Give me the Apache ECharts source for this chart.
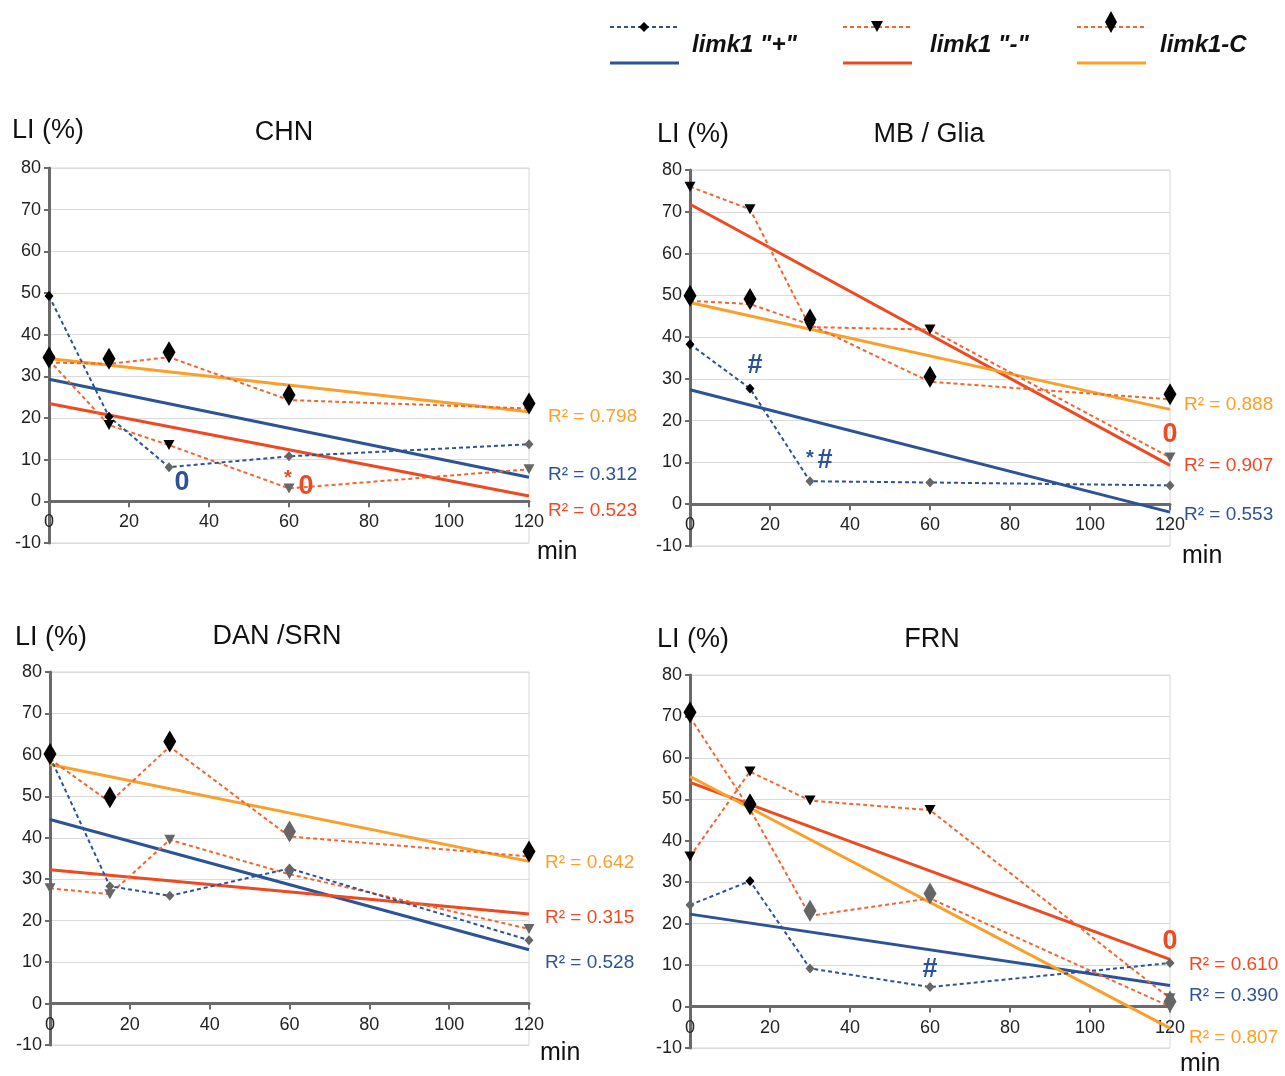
<!DOCTYPE html>
<html>
<head>
<meta charset="utf-8">
<style>
  html, body { margin: 0; padding: 0; background: #fff; }
  #chart { width: 1285px; height: 1076px; }
</style>
<script src="https://cdn.jsdelivr.net/npm/echarts@6/dist/echarts.min.js"></script>
</head>
<body>
<div id="chart"></div>
<script>
// time points (min)
var timePoints = [0, 15, 30, 60, 120];
var trendX = [0, 120];

// CHN
var chnPlus = [49.3, 20.3, 8.2, 10.8, 13.7];
var chnPlusSig = [1, 1, 0, 0, 0];
var chnMinus = [33.9, 18.3, 13.5, 3.1, 7.7];
var chnMinusSig = [1, 1, 1, 0, 0];
var chnC = [33.3, 33.0, 34.6, 24.3, 22.3];
var chnCSig = [1, 1, 1, 1, 1];
var chnTrendPlus = [29.3, 5.8];
var chnTrendMinus = [23.5, 1.3];
var chnTrendC = [34.3, 21.5];
var chnR2 = ['0.312', '0.523', '0.798'];

// MB / Glia
var mbPlus = [38.3, 27.7, 5.5, 5.2, 4.5];
var mbPlusSig = [1, 1, 0, 0, 0];
var mbMinus = [76.0, 70.6, 42.4, 41.8, 11.2];
var mbMinusSig = [1, 1, 1, 1, 0];
var mbC = [48.7, 47.9, 43.0, 29.3, 25.1];
var mbCSig = [1, 1, 1, 1, 1];
var mbTrendPlus = [27.4, -1.9];
var mbTrendMinus = [71.8, 9.3];
var mbTrendC = [48.3, 22.7];
var mbR2 = ['0.553', '0.907', '0.888'];

// DAN / SRN
var danPlus = [59.5, 28.3, 26.0, 32.6, 15.3];
var danPlusSig = [1, 0, 0, 0, 0];
var danMinus = [27.8, 26.4, 39.5, 31.2, 18.0];
var danMinusSig = [0, 0, 0, 0, 0];
var danC = [59.0, 48.6, 62.0, 40.3, 35.5];
var danCSig = [1, 1, 1, 0, 1];
var danTrendPlus = [44.4, 13.0];
var danTrendMinus = [32.3, 21.6];
var danTrendC = [57.7, 34.3];
var danR2 = ['0.528', '0.315', '0.642'];

// FRN
var frnPlus = [24.5, 30.3, 9.2, 4.7, 10.5];
var frnPlusSig = [0, 1, 0, 0, 0];
var frnMinus = [36.2, 56.7, 49.7, 47.4, 2.0];
var frnMinusSig = [1, 1, 1, 1, 0];
var frnC = [69.8, 47.6, 21.9, 26.1, 0.0];
var frnCSig = [1, 1, 0, 0, 0];
var frnTrendPlus = [22.3, 5.1];
var frnTrendMinus = [54.1, 11.4];
var frnTrendC = [55.5, -5.2];
var frnR2 = ['0.390', '0.610', '0.807'];

var BLUE = '#2c5396';
var RED = '#ec4a22';
var ORANGE = '#f9a02b';
var DASH_RED = '#f06630';
var FONT = 'Liberation Sans, Arial, sans-serif';

var panels = [
  { plus: chnPlus, plusSig: chnPlusSig, minus: chnMinus, minusSig: chnMinusSig, c: chnC, cSig: chnCSig,
    tPlus: chnTrendPlus, tMinus: chnTrendMinus, tC: chnTrendC,
    grid: { left: 49, top: 168, width: 480, height: 375 } },
  { plus: mbPlus, plusSig: mbPlusSig, minus: mbMinus, minusSig: mbMinusSig, c: mbC, cSig: mbCSig,
    tPlus: mbTrendPlus, tMinus: mbTrendMinus, tC: mbTrendC,
    grid: { left: 690, top: 170, width: 480, height: 376 } },
  { plus: danPlus, plusSig: danPlusSig, minus: danMinus, minusSig: danMinusSig, c: danC, cSig: danCSig,
    tPlus: danTrendPlus, tMinus: danTrendMinus, tC: danTrendC,
    grid: { left: 50, top: 672, width: 479, height: 373 } },
  { plus: frnPlus, plusSig: frnPlusSig, minus: frnMinus, minusSig: frnMinusSig, c: frnC, cSig: frnCSig,
    tPlus: frnTrendPlus, tMinus: frnTrendMinus, tC: frnTrendC,
    grid: { left: 690, top: 675, width: 480, height: 373 } }
];

function pts(vals, sig) {
  var out = [];
  for (var i = 0; i < vals.length; i++) {
    out.push({ value: [timePoints[i], vals[i]], itemStyle: { color: sig[i] ? '#000' : '#666' } });
  }
  return out;
}
function trend(vals) {
  return [[trendX[0], vals[0]], [trendX[1], vals[1]]];
}

var grids = [], xAxes = [], yAxes = [], series = [];
panels.forEach(function (p, i) {
  grids.push({ left: p.grid.left, top: p.grid.top, width: p.grid.width, height: p.grid.height,
    show: true, borderColor: '#d6d6d6', borderWidth: 1, backgroundColor: 'transparent' });
  // y runs from -10 to 80, so the zero line sits one ninth of the height above the bottom
  xAxes.push({
    type: 'value', gridIndex: i, min: 0, max: 120, interval: 20,
    offset: -p.grid.height / 9,
    axisLine: { onZero: false, lineStyle: { color: '#6a6a6a', width: 3 } },
    axisTick: { show: true, length: 6, lineStyle: { color: '#6a6a6a', width: 2 } },
    axisLabel: { color: '#222', fontSize: 18, margin: 12, fontFamily: FONT },
    splitLine: { show: false }
  });
  yAxes.push({
    type: 'value', gridIndex: i, min: -10, max: 80, interval: 10,
    axisLine: { show: true, onZero: false, lineStyle: { color: '#6a6a6a', width: 3 } },
    axisTick: { show: true, length: 5, lineStyle: { color: '#6a6a6a', width: 2 } },
    axisLabel: { color: '#222', fontSize: 18, margin: 8, fontFamily: FONT },
    splitLine: { show: true, lineStyle: { color: '#dadada', width: 1 } }
  });
  // trend lines
  [[p.tPlus, BLUE], [p.tMinus, RED], [p.tC, ORANGE]].forEach(function (t) {
    series.push({
      type: 'line', xAxisIndex: i, yAxisIndex: i, data: trend(t[0]), symbol: 'none', z: 2,
      lineStyle: { color: t[1], width: 3 }, silent: true, animation: false
    });
  });
  // measured values
  series.push({
    type: 'line', xAxisIndex: i, yAxisIndex: i, data: pts(p.minus, p.minusSig), z: 3,
    symbol: 'triangle', symbolRotate: 180, symbolSize: [11, 10],
    lineStyle: { color: DASH_RED, width: 2, type: [4, 3] }, animation: false
  });
  series.push({
    type: 'line', xAxisIndex: i, yAxisIndex: i, data: pts(p.plus, p.plusSig), z: 3,
    symbol: 'diamond', symbolSize: [9, 10],
    lineStyle: { color: BLUE, width: 2, type: [4, 3] }, animation: false
  });
  series.push({
    type: 'line', xAxisIndex: i, yAxisIndex: i, data: pts(p.c, p.cSig), z: 4,
    symbol: 'diamond', symbolSize: [13, 22], symbolOffset: [0, -5],
    lineStyle: { color: DASH_RED, width: 2, type: [4, 3] }, animation: false
  });
});

function txt(x, y, s, size, color, extra) {
  var style = { text: s, x: x, y: y, fill: color || '#111', font: (extra && extra.font) || (size + 'px ' + FONT),
    textVerticalAlign: 'middle', textAlign: (extra && extra.align) || 'left' };
  return { type: 'text', style: style, z: 10 };
}

var graphic = [];
// panel headers
var headers = [
  ['CHN', 284, 133, 12, 131, 537, 552],
  ['MB / Glia', 929, 135, 657, 135, 1182, 556],
  ['DAN /SRN', 277, 637, 15, 638, 540, 1053],
  ['FRN', 932, 640, 657, 640, 1180, 1064]
];
headers.forEach(function (h) {
  graphic.push(txt(h[1], h[2], h[0], 27, '#111', { align: 'center' }));
  graphic.push(txt(h[3], h[4], 'LI (%)', 27, '#111'));
  graphic.push(txt(h[5], h[6], 'min', 25, '#111'));
});

// R² labels: [panel r2 list, x, y for plus, minus, C]
var r2Pos = [
  [chnR2, 548, [475, 511, 417]],
  [mbR2, 1184, [515, 466, 405]],
  [danR2, 545, [963, 918, 863]],
  [frnR2, 1189, [996, 965, 1038]]
];
var r2Colors = [BLUE, RED, ORANGE];
r2Pos.forEach(function (r) {
  for (var k = 0; k < 3; k++) {
    graphic.push(txt(r[1], r[2][k], 'R\u00B2 = ' + r[0][k], 19, r2Colors[k]));
  }
});

// significance marks
var boldFont = 'bold 27px Liberation Sans Narrow, Liberation Sans, Arial, sans-serif';
graphic.push(txt(182, 483, '0', 27, BLUE, { align: 'center', font: boldFont }));
graphic.push(txt(288, 478, '*', 20, RED, { align: 'center', font: 'bold 20px ' + FONT }));
graphic.push(txt(306, 487, '0', 27, RED, { align: 'center', font: boldFont }));
graphic.push(txt(755, 366, '#', 27, BLUE, { align: 'center', font: boldFont }));
graphic.push(txt(810, 458, '*', 20, BLUE, { align: 'center', font: 'bold 20px ' + FONT }));
graphic.push(txt(825, 461, '#', 27, BLUE, { align: 'center', font: boldFont }));
graphic.push(txt(1170, 435, '0', 27, RED, { align: 'center', font: boldFont }));
graphic.push(txt(930, 970, '#', 27, BLUE, { align: 'center', font: boldFont }));
graphic.push(txt(1170, 942, '0', 27, RED, { align: 'center', font: boldFont }));

// legend
var legendItems = [
  { x: 610, dash: BLUE, solid: BLUE, label: 'limk1 "+"', tx: 692, marker: 'small' },
  { x: 843, dash: DASH_RED, solid: RED, label: 'limk1 "-"', tx: 930, marker: 'tri' },
  { x: 1077, dash: DASH_RED, solid: ORANGE, label: 'limk1-C', tx: 1160, marker: 'big' }
];
legendItems.forEach(function (it) {
  graphic.push({ type: 'line', shape: { x1: it.x, y1: 27, x2: it.x + 69, y2: 27 },
    style: { stroke: it.dash, lineWidth: 2, lineDash: [4, 3] }, z: 10 });
  graphic.push({ type: 'line', shape: { x1: it.x, y1: 63, x2: it.x + 69, y2: 63 },
    style: { stroke: it.solid, lineWidth: 3 }, z: 10 });
  var cx = it.x + 34;
  var shape;
  if (it.marker === 'small') shape = [[cx, 22], [cx + 5, 27], [cx, 32], [cx - 5, 27]];
  else if (it.marker === 'tri') shape = [[cx - 6, 21], [cx + 6, 21], [cx, 32]];
  else shape = [[cx, 11], [cx + 6, 22], [cx, 33], [cx - 6, 22]];
  graphic.push({ type: 'polygon', shape: { points: shape }, style: { fill: '#000' }, z: 11 });
  graphic.push(txt(it.tx, 45, it.label, 24, '#111', { font: 'italic bold 24px ' + FONT }));
});

var chart = echarts.init(document.getElementById('chart'), null, { renderer: 'canvas' });
chart.setOption({
  backgroundColor: '#fff',
  animation: false,
  textStyle: { fontFamily: FONT },
  grid: grids,
  xAxis: xAxes,
  yAxis: yAxes,
  series: series,
  graphic: graphic
});
</script>
</body>
</html>
